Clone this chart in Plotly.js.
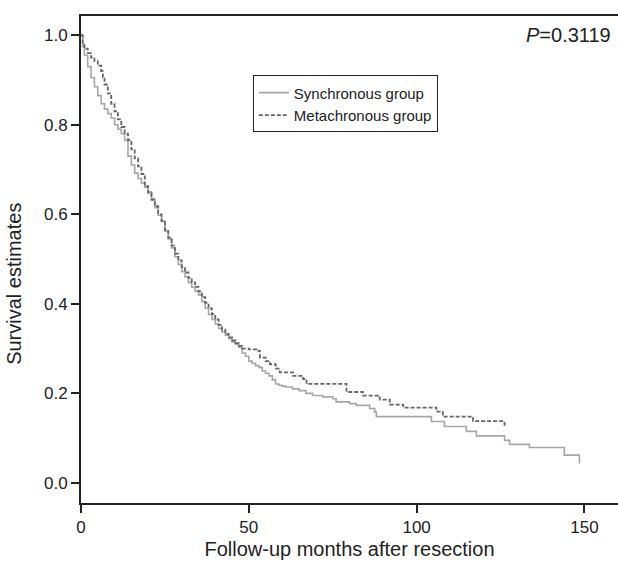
<!DOCTYPE html>
<html>
<head>
<meta charset="utf-8">
<script src="https://cdn.plot.ly/plotly-3.0.1.min.js"></script>
<style>html,body{margin:0;padding:0;background:#fff;}#chart{width:618px;height:563px;}</style>
</head>
<body>
<div id="chart"></div>
<script>
// Synchronous group (solid)
const syncMonths = [0,0.5,1,2,3,4,5,6,7,8,9,10,11,12,13,14,15,16,17,18,19,20,21,22,23,24,25,26,27,28,29,30,31,32,33,34,35,36,37,38,39,40,41,42,43,44,45,46,47,48,49,50,51,52,53,54,55,56,57,58,59,60,61,63,65,67,69,72,75,76,80,82,86,87.5,88,104.4,108.3,114.8,117.8,126.2,127.7,133.6,144,148.5];
const syncSurv = [1.0,0.975,0.955,0.93,0.905,0.885,0.865,0.847,0.835,0.825,0.815,0.80,0.79,0.78,0.765,0.73,0.71,0.692,0.68,0.67,0.66,0.65,0.635,0.615,0.598,0.585,0.562,0.545,0.525,0.505,0.488,0.472,0.46,0.448,0.437,0.428,0.42,0.405,0.39,0.376,0.365,0.355,0.345,0.337,0.33,0.322,0.315,0.31,0.303,0.29,0.283,0.272,0.267,0.262,0.258,0.25,0.245,0.239,0.23,0.221,0.218,0.216,0.214,0.21,0.206,0.20,0.195,0.192,0.188,0.181,0.177,0.173,0.166,0.158,0.148,0.137,0.126,0.115,0.105,0.095,0.086,0.079,0.062,0.043];

// Metachronous group (dashed)
const metaMonths = [0,0.5,1,2,3,4,5,6,6.5,7,8,9,10,11,12,13,14,15,16,17,18,19,20,21,22,23,24,25,26,27,28,29,30,31,32,33,34,35,36,37,38,39,40,41,42,43,44,45,46,47,48,50,52.3,53.3,55,56.3,58,59.2,63.2,66.2,67.2,79.1,84,89,92,96,105.9,107.8,116.8,126.2];
const metaSurv = [1.0,0.979,0.97,0.96,0.95,0.942,0.932,0.92,0.906,0.89,0.87,0.847,0.83,0.812,0.795,0.78,0.766,0.745,0.725,0.707,0.69,0.663,0.648,0.632,0.618,0.60,0.585,0.565,0.548,0.53,0.512,0.497,0.482,0.47,0.458,0.448,0.438,0.428,0.415,0.402,0.39,0.377,0.365,0.353,0.342,0.333,0.325,0.318,0.312,0.306,0.30,0.298,0.295,0.28,0.272,0.265,0.255,0.247,0.239,0.232,0.221,0.203,0.195,0.186,0.175,0.168,0.159,0.148,0.138,0.126];

const xTicks = [0,50,100,150];
const yTicks = [0,0.2,0.4,0.6,0.8,1.0];
const yTickText = ['0.0','0.2','0.4','0.6','0.8','1.0'];

const FONT = 'Liberation Sans, Arial, Helvetica, sans-serif';

const traces = [
  {x: syncMonths, y: syncSurv, type:'scatter', mode:'lines', name:'Synchronous group',
   line:{shape:'hv', color:'#a6a6a6', width:1.6}},
  {x: metaMonths, y: metaSurv, type:'scatter', mode:'lines', name:'Metachronous group',
   line:{shape:'hv', color:'#666666', width:1.8, dash:'4px,2px'}}
];

const layout = {
  width:618, height:563,
  margin:{l:81, r:0, t:16, b:60},
  paper_bgcolor:'#fff', plot_bgcolor:'#fff',
  font:{family:FONT, color:'#222', size:17},
  showlegend:true,
  legend:{x:0.32, y:0.878, xanchor:'left', yanchor:'top', bgcolor:'#fff',
          bordercolor:'#222', borderwidth:1, font:{family:FONT, size:15, color:'#222'},
          tracegroupgap:0, itemwidth:30},
  xaxis:{range:[0,160], tickvals:xTicks, ticktext:xTicks.map(String), ticks:'outside', ticklen:8, tickwidth:2,
         tickcolor:'#222', showline:true, linewidth:2, linecolor:'#222', mirror:true,
         showgrid:false, zeroline:false, tickfont:{family:FONT, size:17, color:'#222'},
         title:{text:'Follow-up months after resection', font:{family:FONT, size:20, color:'#222'}, standoff:6}},
  yaxis:{range:[-0.045,1.043], tickvals:yTicks, ticktext:yTickText, ticks:'outside', ticklen:8, tickwidth:2,
         tickcolor:'#222', showline:true, linewidth:2, linecolor:'#222', mirror:false,
         showgrid:false, zeroline:false, tickfont:{family:FONT, size:17, color:'#222'}},
  annotations:[
    {text:'<i>P</i>=0.3119', xref:'paper', yref:'paper', x:1, y:1, xanchor:'right', yanchor:'top',
     xshift:-5, yshift:-6, showarrow:false, font:{family:FONT, size:20, color:'#222'}},
    {text:'Survival estimates', xref:'paper', yref:'paper', x:0, y:0.45, xanchor:'center', yanchor:'middle',
     xshift:-67, textangle:-90, showarrow:false, font:{family:FONT, size:20, color:'#222'}}
  ]
};

Plotly.newPlot('chart', traces, layout, {displayModeBar:false, staticPlot:true});
</script>
</body>
</html>
